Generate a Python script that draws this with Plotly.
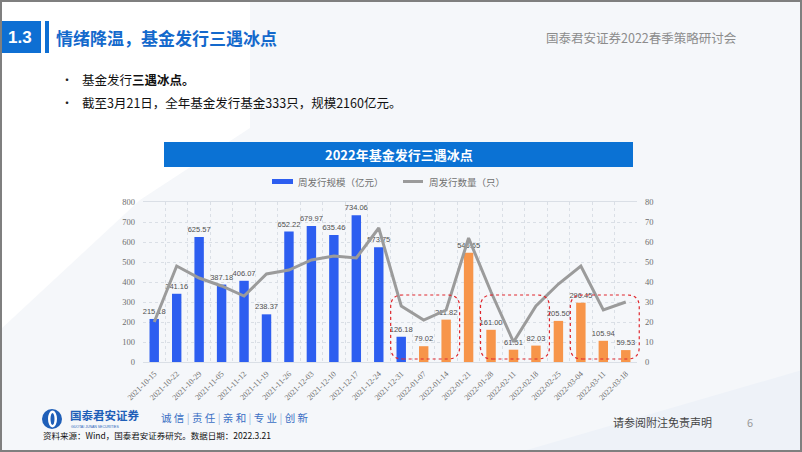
import plotly.graph_objects as go

dates = ["2021-10-15", "2021-10-22", "2021-10-29", "2021-11-05", "2021-11-12", "2021-11-19",
         "2021-11-26", "2021-12-03", "2021-12-10", "2021-12-17", "2021-12-24", "2021-12-31",
         "2022-01-07", "2022-01-14", "2022-01-21", "2022-01-28", "2022-02-11", "2022-02-18",
         "2022-02-25", "2022-03-04", "2022-03-11", "2022-03-18"]
issue_scale = [215.18, 341.16, 625.57, 387.18, 406.07, 238.37, 652.22, 679.97, 635.46, 734.06,
               573.75, 126.18, 79.02, 211.82, 546.65, 161.00, 61.51, 82.03, 205.50, 296.45,
               105.94, 59.53]
issue_count = [20, 48, 42, 38, 33, 44, 46, 51, 53, 52, 67, 28, 21, 26, 62, 35, 10, 28, 39, 48, 26, 30]
left_ticks = [0, 100, 200, 300, 400, 500, 600, 700, 800]
right_ticks = [0, 10, 20, 30, 40, 50, 60, 70, 80]
# groups of three "ice point" weeks (first/last index)
ice_groups = [(11, 13), (15, 17), (19, 21)]

BLUE = "#2D5EF0"
ORANGE = "#F7954A"
GRAY_LINE = "#9B9B9B"
CJK = "Noto Sans CJK SC"

idx = list(range(len(dates)))
bar_colors = [BLUE if d.startswith("2021") else ORANGE for d in dates]

# plot area in pixels
L, T, W, H = 143, 202, 494, 160
FW, FH = 802, 452
XMIN, XMAX = -0.5, len(dates) - 0.5
YMAX = 800


def px(x):
    return (x - L) / W


def py(y):
    return (T + H - y) / H


def cx(i):
    return (i - XMIN) / (XMAX - XMIN)


def cy(v):
    return v / YMAX


def note(text, x, y, size, color, xanchor="left", family=CJK):
    return dict(text=text, x=px(x), y=py(y), xref="paper", yref="paper", xanchor=xanchor,
                yanchor="middle", showarrow=False, font=dict(family=family, size=size, color=color))


fig = go.Figure()
fig.add_trace(go.Bar(
    x=idx, y=issue_scale, marker=dict(color=bar_colors, line=dict(width=0)), width=0.42,
    text=[f"{v:.2f}" for v in issue_scale], textposition="outside", constraintext="none",
    textfont=dict(family="Liberation Sans", size=7.5, color="#505050"),
    cliponaxis=False, name="周发行规模（亿元）", showlegend=False, yaxis="y"))
fig.add_trace(go.Scatter(
    x=idx, y=issue_count, mode="lines", line=dict(color=GRAY_LINE, width=3),
    name="周发行数量（只）", showlegend=False, yaxis="y2"))

shapes = []
annotations = []

# backgrounds
shapes.append(dict(type="rect", xref="paper", yref="paper", x0=px(0), x1=px(FW), y0=py(0), y1=py(FH),
                   fillcolor="#F5F7FA", line=dict(width=0), layer="below"))
shapes.append(dict(type="rect", xref="paper", yref="paper", x0=px(0), x1=px(250), y0=py(0), y1=py(128),
                   fillcolor="#FFFFFF", line=dict(width=0), layer="below"))
shapes.append(dict(type="path", xref="paper", yref="paper",
                   path=f"M {px(0)},{py(128)} L {px(250)},{py(128)} L {px(140)},{py(200)} L {px(0)},{py(330)} Z",
                   fillcolor="#FFFFFF", line=dict(width=0), layer="below"))
shapes.append(dict(type="path", xref="paper", yref="paper",
                   path=f"M {px(520)},{py(452)} L {px(802)},{py(370)} L {px(802)},{py(452)} Z",
                   fillcolor="#EEF2F8", line=dict(width=0), layer="below"))

# header
shapes.append(dict(type="rect", xref="paper", yref="paper", x0=px(0), x1=px(41), y0=py(21), y1=py(53),
                   fillcolor="#0E6FD3", line=dict(width=0)))
shapes.append(dict(type="rect", xref="paper", yref="paper", x0=px(45), x1=px(49), y0=py(21), y1=py(53),
                   fillcolor="#0E6FD3", line=dict(width=0)))
annotations.append(note("<b>1.3</b>", 20, 37, 17, "white", "center", "Liberation Sans"))
annotations.append(note("<b>情绪降温，基金发行三遇冰点</b>", 54, 37, 17, "#1469CC"))
annotations.append(note("国泰君安证券2022春季策略研讨会", 739, 37, 12.5, "#8C8C8C", "right"))

# bullets
annotations.append(note("•", 67, 79, 12, "#222222", "center"))
annotations.append(note("基金发行<b>三遇冰点。</b>", 80, 79, 12.5, "#111111"))
annotations.append(note("•", 67, 102, 12, "#222222", "center"))
annotations.append(note("截至3月21日，全年基金发行基金333只，规模2160亿元。", 80, 102, 12.5, "#111111"))

# chart title bar
shapes.append(dict(type="rect", xref="paper", yref="paper", x0=px(164), x1=px(633), y0=py(142), y1=py(167),
                   fillcolor="#0B72D4", line=dict(width=0)))
annotations.append(note("<b>2022年基金发行三遇冰点</b>", 399, 154.5, 13, "white", "center"))

# legend
shapes.append(dict(type="rect", xref="paper", yref="paper", x0=px(272), x1=px(293), y0=py(179), y1=py(184),
                   fillcolor=BLUE, line=dict(width=0)))
annotations.append(note("周发行规模（亿元）", 296, 181.5, 9.5, "#707070"))
shapes.append(dict(type="line", xref="paper", yref="paper", x0=px(403), x1=px(423), y0=py(181.5), y1=py(181.5),
                   line=dict(color=GRAY_LINE, width=3)))
annotations.append(note("周发行数量（只）", 427, 181.5, 9.5, "#707070"))

# red dashed rounded boxes around the three ice-point groups
rx, ry = 12 / W, 12 / H
for a, b in ice_groups:
    x0, x1 = cx(a - 0.47), cx(b + 0.6)
    y0, y1 = cy(15), cy(335)
    path = (f"M {x0 + rx},{y0} L {x1 - rx},{y0} Q {x1},{y0} {x1},{y0 + ry} "
            f"L {x1},{y1 - ry} Q {x1},{y1} {x1 - rx},{y1} L {x0 + rx},{y1} "
            f"Q {x0},{y1} {x0},{y1 - ry} L {x0},{y0 + ry} Q {x0},{y0} {x0 + rx},{y0} Z")
    shapes.append(dict(type="path", xref="paper", yref="paper", path=path,
                       line=dict(color="#E0282E", width=1.2, dash="dot")))

# footer
shapes.append(dict(type="circle", xref="paper", yref="paper", x0=px(42), x1=px(62), y0=py(409), y1=py(429),
                   fillcolor="#1F5FB8", line=dict(width=0)))
shapes.append(dict(type="circle", xref="paper", yref="paper", x0=px(48), x1=px(57), y0=py(410.5), y1=py(427.5),
                   fillcolor="white", line=dict(width=0)))
shapes.append(dict(type="circle", xref="paper", yref="paper", x0=px(50.5), x1=px(54.5), y0=py(413), y1=py(425),
                   fillcolor="#1F5FB8", line=dict(width=0)))
annotations.append(note("<b>国泰君安证券</b>", 68, 414.5, 11.5, "#1F5FB8"))
annotations.append(note("GUOTAI JUNAN SECURITIES", 69, 426.5, 3.5, "#1F5FB8", "left", "Liberation Sans"))
annotations.append(note("诚 信 <span style='color:#9DB5DD'>|</span> 责 任 <span style='color:#9DB5DD'>|</span> "
                        "亲 和 <span style='color:#9DB5DD'>|</span> 专 业 <span style='color:#9DB5DD'>|</span> 创 新",
                        159, 417, 10.5, "#3A6FC4"))
annotations.append(note("资料来源：Wind，国泰君安证券研究。数据日期：2022.3.21", 41, 435, 8.5, "#111111"))
annotations.append(note("请参阅附注免责声明", 611, 422, 11, "#444444"))
annotations.append(note("6", 750, 422, 11, "#999999", "center"))

# slide border
shapes.append(dict(type="rect", xref="paper", yref="paper", x0=px(1), x1=px(FW - 1), y0=py(1), y1=py(FH - 1),
                   line=dict(color="#7F7F7F", width=2)))

grid_col = "#DADFE6"
fig.update_layout(
    width=FW, height=FH,
    margin=dict(l=L, r=FW - L - W, t=T, b=FH - T - H),
    paper_bgcolor="white", plot_bgcolor="rgba(0,0,0,0)",
    xaxis=dict(range=[XMIN, XMAX], tickmode="array", tickvals=idx, ticktext=dates, tickangle=-45,
               tickfont=dict(family="Liberation Serif", size=8, color="#6E6E6E"),
               showgrid=False, zeroline=False, showline=True, linecolor=grid_col, mirror=True,
               ticks="", ticklabelstandoff=3,
               minor=dict(tick0=0.5, dtick=1, showgrid=True, gridcolor=grid_col, griddash="dot", ticks="")),
    yaxis=dict(range=[0, YMAX], tickvals=left_ticks, showgrid=True, gridcolor=grid_col, griddash="dot",
               zeroline=False, tickfont=dict(family="Liberation Serif", size=8.5, color="#6E6E6E"),
               ticklabelstandoff=7),
    yaxis2=dict(range=[0, 80], tickvals=right_ticks, overlaying="y", side="right", showgrid=False,
                zeroline=False, tickfont=dict(family="Liberation Serif", size=8.5, color="#6E6E6E"),
                ticklabelstandoff=7),
    shapes=shapes, annotations=annotations,
)

fig.write_html("out.html", config={"displayModeBar": False},
               post_script="document.body.style.margin='0';document.body.style.overflow='hidden';")
